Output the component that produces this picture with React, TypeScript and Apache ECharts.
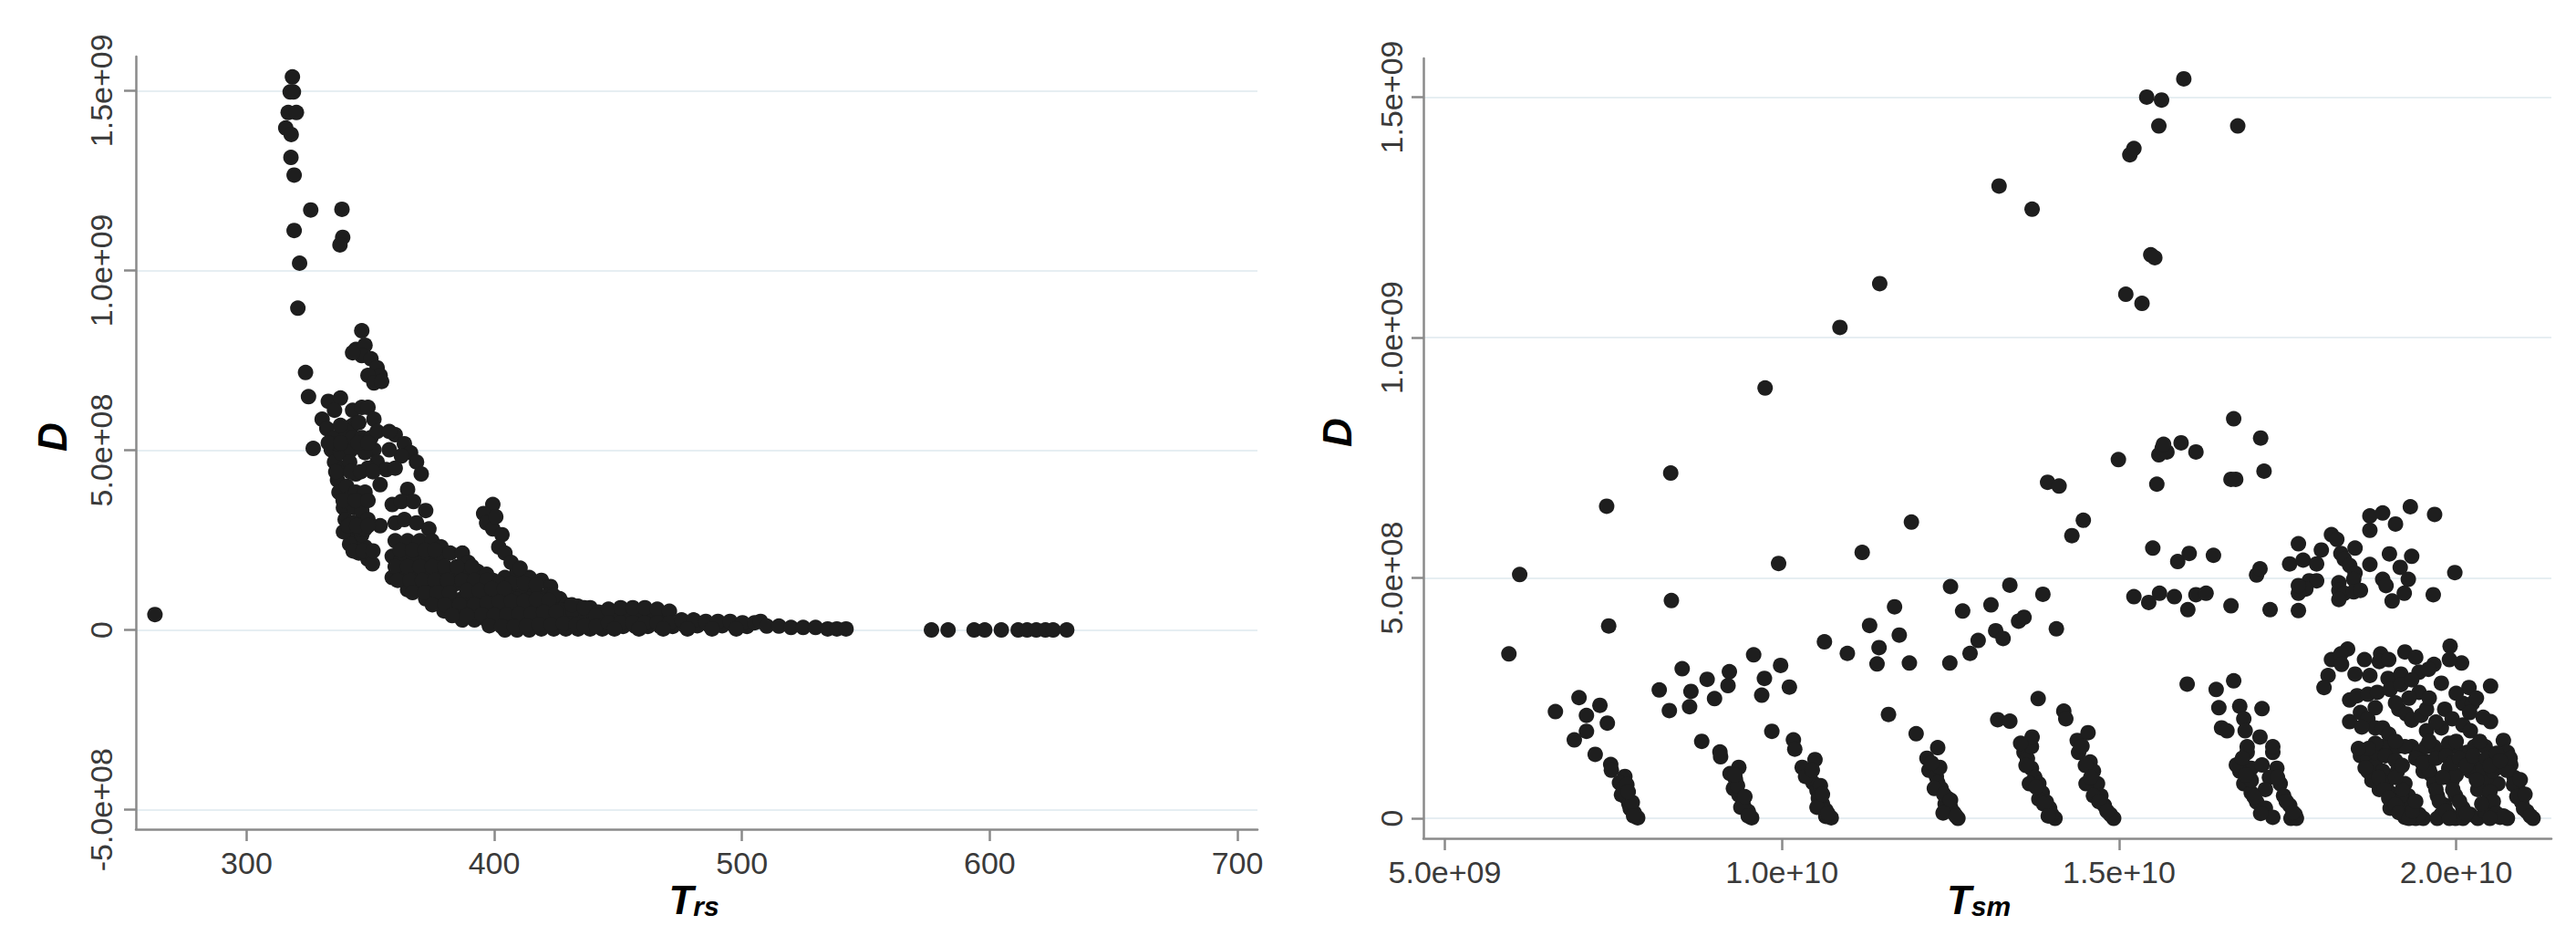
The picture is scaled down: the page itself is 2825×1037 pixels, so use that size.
import React, { useEffect, useRef } from "react";
import * as echarts from "echarts";

// ---------- axis ticks ----------
const trsTicks = [300, 400, 500, 600, 700];
const trsTickLabels = ["300", "400", "500", "600", "700"];
const dLeftTicks = [-5e8, 0, 5e8, 1e9, 1.5e9];
const dLeftTickLabels = ["-5.0e+08", "0", "5.0e+08", "1.0e+09", "1.5e+09"];
const tsmTicks = [5e9, 1e10, 1.5e10, 2e10];
const tsmTickLabels = ["5.0e+09", "1.0e+10", "1.5e+10", "2.0e+10"];
const dRightTicks = [0, 5e8, 1e9, 1.5e9];
const dRightTickLabels = ["0", "5.0e+08", "1.0e+09", "1.5e+09"];

// ---------- left panel: [T_rs, D (x1e8)] ----------
const leftPoints: [number, number][] = [
  [263, 0.43],
  [318.5, 15.38], [317.6, 14.96], [318.9, 14.96], [316.8, 14.39], [320.1, 14.39], [315.8, 13.96],
  [318.0, 13.78], [317.9, 13.14], [319.2, 12.65], [325.9, 11.68], [338.5, 11.7], [319.2, 11.11],
  [338.8, 10.92], [337.7, 10.71], [321.4, 10.2], [320.7, 8.95],
  [346.5, 8.32], [323.8, 7.16], [325.0, 6.49], [326.9, 5.05], [353.9, 4.04], [365.0, 3.91], [353.9, 2.9],
  [344.1, 7.8], [347.8, 7.92], [346.5, 7.63], [350.2, 7.54], [352.7, 7.29], [353.9, 7.08], [349.0, 7.08],
  [351.4, 6.87], [354.5, 6.91], [342.8, 7.71],
  [333.0, 6.36], [337.9, 6.45], [335.5, 6.11], [330.5, 5.86], [332.4, 5.6], [335.5, 5.35], [334.2, 5.01],
  [335.5, 4.67], [337.9, 4.93], [339.1, 4.5], [336.7, 4.17], [337.3, 3.83], [340.4, 4.0], [341.6, 3.66],
  [339.1, 3.4], [339.8, 3.07], [342.8, 2.98], [341.6, 2.65], [344.1, 2.48], [341.6, 2.39], [345.3, 2.14],
  [347.8, 2.31], [346.5, 2.65], [349.0, 1.97], [350.8, 1.84], [344.1, 4.34], [342.2, 5.01], [342.8, 5.69],
  [340.4, 5.52], [337.9, 5.69], [336.7, 5.18], [341.6, 4.67], [343.4, 3.4], [344.1, 3.83], [339.1, 2.73],
  [345.3, 2.81], [346.5, 3.07],
  [342.8, 6.11], [346.5, 6.19], [349.0, 6.19], [351.4, 5.86], [345.3, 5.77], [342.8, 5.35], [346.5, 5.35],
  [350.2, 5.35], [352.7, 5.52], [351.4, 5.01], [347.8, 4.93], [352.7, 4.67], [356.4, 4.46], [349.0, 4.5],
  [347.8, 3.83], [346.5, 3.32], [349.0, 3.07], [347.8, 2.81],
  [333.0, 5.2], [338.0, 5.2], [345.0, 5.2], [349.0, 5.2], [336.0, 4.4], [342.0, 4.4], [346.0, 4.4],
  [351.0, 4.4], [339.0, 3.6], [344.0, 3.6], [349.0, 3.6], [341.0, 2.9], [344.5, 2.9], [349.0, 2.9],
  [343.0, 2.2], [347.0, 2.2], [351.0, 2.2],
  [360.0, 5.43], [363.7, 5.18], [366.2, 4.93], [368.6, 4.67], [370.5, 4.34], [362.5, 4.84], [357.6, 5.01],
  [360.0, 4.5], [357.6, 5.52],
  [358.8, 3.49], [362.5, 3.57], [367.4, 3.57], [372.3, 3.32], [360.0, 2.98], [363.7, 3.07], [368.6, 2.98],
  [373.6, 2.81], [360.0, 2.48], [365.0, 2.48], [369.9, 2.48], [374.8, 2.48], [378.5, 2.31], [358.8, 2.05],
  [362.5, 1.97], [367.4, 1.97], [372.3, 1.97], [377.3, 1.97], [382.2, 2.14], [387.1, 2.14], [389.5, 1.88],
  [358.8, 1.46], [363.7, 1.55], [368.6, 1.55], [373.6, 1.55], [378.5, 1.63], [383.4, 1.63], [388.3, 1.63],
  [393.2, 1.63], [396.9, 1.55], [365.0, 1.12], [369.9, 1.21], [374.8, 1.21], [379.7, 1.21], [384.6, 1.29],
  [389.5, 1.29], [394.5, 1.29], [399.4, 1.38], [404.3, 1.46], [409.2, 1.63], [414.1, 1.46], [419.0, 1.38],
  [422.7, 1.21], [372.3, 0.87], [377.3, 0.87], [382.2, 0.87], [387.1, 0.87], [392.0, 0.96], [396.9, 0.96],
  [401.8, 0.96], [406.8, 1.04], [411.7, 1.04], [416.6, 1.12], [421.5, 0.96], [426.4, 0.87], [379.7, 0.53],
  [384.6, 0.53], [389.5, 0.53], [394.5, 0.53], [399.4, 0.58], [404.3, 0.62], [409.2, 0.62], [414.1, 0.66],
  [419.0, 0.7], [424.0, 0.7], [428.9, 0.7], [433.8, 0.66], [438.7, 0.62], [387.1, 0.28], [392.0, 0.28],
  [396.9, 0.28], [401.8, 0.2], [406.8, 0.2], [411.7, 0.28], [416.6, 0.28], [421.5, 0.36], [426.4, 0.36],
  [431.3, 0.36], [436.3, 0.36], [441.2, 0.28], [404.3, 0.0], [409.2, 0.0], [414.1, 0.0], [419.0, 0.03],
  [424.0, 0.03], [428.9, 0.03], [433.8, 0.03], [438.7, 0.03], [443.6, 0.03],
  [362.0, 2.22], [367.0, 2.22], [372.0, 2.22], [376.0, 2.22],
  [360.0, 1.76], [365.0, 1.76], [370.0, 1.76], [375.0, 1.76], [380.0, 1.76], [385.0, 1.76], [391.0, 1.76],
  [361.0, 1.38], [366.0, 1.38], [371.0, 1.38], [376.0, 1.38], [381.0, 1.38], [387.0, 1.38], [392.0, 1.38],
  [397.0, 1.38], [402.0, 1.3], [407.0, 1.3], [412.0, 1.3], [417.0, 1.25],
  [367.0, 1.04], [372.0, 1.04], [377.0, 1.04], [382.0, 1.04], [389.0, 1.1], [394.0, 1.1], [399.0, 1.15],
  [404.0, 1.15], [409.0, 0.85], [414.0, 0.85], [419.0, 0.85], [424.0, 0.95],
  [375.0, 0.7], [380.0, 0.7], [386.0, 0.7], [392.0, 0.7], [397.0, 0.75], [402.0, 0.78], [407.0, 0.8],
  [412.0, 0.8], [417.0, 0.85], [422.0, 0.82], [427.0, 0.55], [432.0, 0.5], [437.0, 0.45], [442.0, 0.5],
  [383.0, 0.4], [389.0, 0.4], [395.0, 0.42], [400.0, 0.42], [405.0, 0.42], [410.0, 0.45], [415.0, 0.45],
  [420.0, 0.5], [425.0, 0.5], [430.0, 0.18], [435.0, 0.2], [440.0, 0.15], [444.0, 0.2],
  [398.0, 0.12], [403.0, 0.1], [408.0, 0.1], [413.0, 0.12], [418.0, 0.15], [423.0, 0.15], [428.0, 0.18],
  [433.0, 0.15], [438.0, 0.12], [443.0, 0.1], [447.0, 0.1], [452.0, 0.1], [457.0, 0.1], [462.0, 0.1],
  [467.0, 0.1], [472.0, 0.1], [477.0, 0.12], [482.0, 0.12], [487.0, 0.12], [492.0, 0.12], [497.0, 0.12],
  [502.0, 0.1], [448.0, 0.4], [453.0, 0.4], [458.0, 0.4], [463.0, 0.4], [468.0, 0.4],
  [399.4, 3.49], [395.7, 3.24], [396.9, 2.98], [399.4, 2.81], [403.1, 2.65], [401.8, 2.31], [404.3, 2.14],
  [406.8, 1.88], [410.4, 1.72], [400.6, 3.15],
  [431.3, 0.7], [436.3, 0.62], [441.2, 0.41], [436.3, 0.11], [441.2, 0.11], [446.1, 0.58], [451.0, 0.62],
  [455.9, 0.62], [460.8, 0.62], [465.8, 0.58], [470.7, 0.52], [446.1, 0.2], [451.0, 0.2], [455.9, 0.2],
  [460.8, 0.2], [465.8, 0.2], [470.7, 0.2], [448.5, 0.03], [458.4, 0.03], [468.2, 0.03], [475.6, 0.28],
  [480.5, 0.28], [485.4, 0.24], [490.3, 0.24], [495.2, 0.24], [500.2, 0.2], [505.1, 0.2], [507.5, 0.24],
  [478.0, 0.03], [487.9, 0.03], [497.7, 0.03], [510.0, 0.11], [514.9, 0.11], [519.8, 0.07], [524.7, 0.07],
  [529.7, 0.07], [534.6, 0.03], [538.3, 0.03], [542.0, 0.03],
  [576.5, 0.0], [583.2, 0.0], [593.7, 0.0], [598.0, 0.0], [604.7, 0.0], [611.5, 0.0], [615.1, 0.0],
  [618.8, 0.0], [622.5, 0.0], [625.6, 0.0], [631.1, 0.0],
];

// ---------- right panel: [T_sm (x1e9), D (x1e8)] ----------
const rightPoints: [number, number][] = [
  [5.95, 3.42], [6.11, 5.07], [7.4, 6.49], [7.43, 4.0], [8.35, 7.18], [8.36, 4.53], [9.75, 8.95], [9.95, 5.3],
  [10.86, 10.21], [11.45, 11.12], [11.92, 6.16], [11.19, 5.53], [13.22, 13.15], [13.71, 12.67],
  [13.94, 6.99], [14.11, 6.91], [14.3, 5.88], [14.47, 6.2], [15.1, 10.9], [15.34, 10.71], [15.16, 13.8],
  [15.22, 13.93], [15.41, 15.0], [15.63, 14.94], [15.59, 14.4], [15.96, 15.38], [16.76, 14.4],
  [15.47, 11.72], [15.53, 11.66], [14.99, 7.46], [15.59, 7.56], [15.64, 7.7], [15.71, 7.62], [15.66, 7.78],
  [15.92, 7.81], [16.14, 7.62], [16.7, 8.31], [17.1, 7.91], [16.66, 7.05], [16.73, 7.05], [17.15, 7.22],
  [15.56, 6.95],
  [6.64, 2.22], [6.99, 2.51], [7.3, 2.35], [7.1, 2.14], [7.41, 1.98], [7.1, 1.81], [6.92, 1.63], [7.23, 1.33],
  [7.46, 1.12], [7.47, 1.0],
  [7.67, 0.87], [7.59, 0.74], [7.65, 0.62], [7.62, 0.49], [7.7, 0.42], [7.73, 0.3], [7.75, 0.2], [7.81, 0.11],
  [7.86, 0.01], [7.78, 0.33], [7.7, 0.7], [7.8, 0.05], [7.72, 0.55],
  [8.52, 3.11], [8.18, 2.67], [8.33, 2.24], [8.65, 2.64], [8.63, 2.32], [8.89, 2.89], [9.0, 2.49], [9.22, 3.05],
  [9.2, 2.76], [9.58, 3.4], [9.98, 3.18], [9.74, 2.91], [9.7, 2.56], [10.11, 2.73], [8.81, 1.6], [9.08, 1.38],
  [9.09, 1.28],
  [9.36, 1.06], [9.23, 0.93], [9.31, 0.81], [9.28, 0.62], [9.36, 0.49], [9.42, 0.36], [9.44, 0.23], [9.5, 0.14],
  [9.55, 0.01], [9.39, 0.23], [9.34, 0.68], [9.45, 0.45], [9.5, 0.05], [9.3, 0.9],
  [9.85, 1.81], [10.17, 1.63], [10.19, 1.44],
  [10.49, 1.22], [10.3, 1.06], [10.41, 0.87], [10.46, 0.74], [10.52, 0.58], [10.54, 0.42], [10.6, 0.3],
  [10.65, 0.17], [10.73, 0.01], [10.35, 0.87], [10.57, 0.68], [10.65, 0.04], [10.52, 0.23],
  [10.6, 0.5], [10.68, 0.1], [10.45, 1.0],
  [10.63, 3.67], [10.97, 3.43], [11.3, 4.01], [11.44, 3.55], [11.41, 3.21], [11.67, 4.4], [11.74, 3.81],
  [11.89, 3.23], [11.58, 2.16], [11.99, 1.76],
  [12.31, 1.47], [12.15, 1.25], [12.18, 1.0], [12.29, 0.87], [12.34, 1.06], [12.31, 0.74], [12.36, 0.62],
  [12.45, 0.42], [12.42, 0.3], [12.5, 0.23], [12.55, 0.11], [12.61, 0.0], [12.39, 0.11], [12.26, 0.62],
  [12.22, 1.15], [12.4, 0.5], [12.5, 0.38], [12.58, 0.05],
  [12.5, 4.82], [12.68, 4.31], [13.1, 4.44], [12.91, 3.7], [13.17, 3.9], [13.28, 3.74], [12.79, 3.43],
  [12.49, 3.23], [13.2, 2.05],
  [13.38, 4.85], [13.87, 4.66], [13.51, 4.1], [13.59, 4.18], [14.07, 3.94],
  [13.8, 2.49], [13.38, 2.02], [14.18, 2.23], [14.21, 2.07],
  [13.59, 1.37], [13.64, 1.24], [13.7, 1.04], [13.75, 0.85], [13.81, 0.72], [13.86, 0.53], [13.92, 0.34],
  [13.97, 0.21], [14.05, 0.0], [13.67, 0.72], [13.81, 0.4], [14.0, 0.08], [13.7, 1.49], [13.71, 1.69],
  [13.54, 1.56], [13.62, 1.1], [13.77, 0.65], [13.88, 0.3], [13.95, 0.05],
  [14.38, 1.62], [14.4, 1.37], [14.54, 1.78], [14.57, 1.17], [14.62, 0.98], [14.68, 0.72], [14.73, 0.47],
  [14.78, 0.27], [14.87, 0.08], [14.92, 0.0], [14.51, 0.72], [14.62, 0.47],
  [14.45, 1.5], [14.5, 1.1], [14.58, 0.85], [14.7, 0.35], [14.82, 0.15],
  [15.5, 5.62], [15.87, 5.34], [16.04, 5.51], [16.4, 5.47],
  [15.22, 4.61], [15.44, 4.49], [15.6, 4.68], [15.82, 4.61], [16.02, 4.34], [16.14, 4.65], [16.29, 4.68],
  [16.66, 4.42], [17.04, 5.06], [17.09, 5.19], [17.24, 4.34],
  [17.66, 4.32], [17.53, 5.29], [17.66, 5.71], [17.73, 5.37], [17.93, 5.29], [18.15, 5.9], [18.23, 5.8],
  [18.0, 5.58], [18.29, 5.51], [18.34, 5.39], [18.42, 5.26], [18.5, 5.62], [18.72, 5.99], [18.72, 6.29],
  [18.91, 6.35], [19.1, 6.12], [19.32, 6.48], [19.68, 6.32], [19.01, 5.5], [19.34, 5.45], [18.72, 5.28],
  [19.17, 5.22], [19.29, 4.97], [18.5, 5.1], [18.48, 4.97],
  [18.26, 4.9], [18.26, 4.74], [18.34, 4.68], [18.48, 4.71], [18.58, 4.74], [18.26, 4.55],
  [17.82, 4.94], [17.93, 4.94], [17.77, 4.77], [17.66, 4.68], [17.66, 4.84],
  [18.91, 4.97], [18.96, 4.84], [19.05, 4.52], [19.23, 4.68], [19.66, 4.65], [19.98, 5.11],
  [16.01, 2.79], [16.44, 2.68], [16.7, 2.86], [16.48, 2.3], [16.79, 2.33], [17.12, 2.28], [16.52, 1.88],
  [16.6, 1.82], [16.85, 2.07], [16.87, 1.82], [17.09, 1.69],
  [16.9, 1.37], [16.96, 1.04], [16.79, 0.98], [16.85, 0.72], [16.96, 0.53], [17.04, 0.34], [17.17, 0.21],
  [17.28, 0.02], [17.55, 0.0], [17.28, 1.37], [17.34, 1.04], [17.23, 0.85], [17.39, 0.72], [17.44, 0.47],
  [17.53, 0.27], [17.61, 0.08], [17.63, 0.0], [17.17, 0.6], [16.96, 0.79], [16.74, 1.11], [17.12, 1.11],
  [16.9, 1.49], [17.28, 1.49],
  [16.83, 1.25], [16.88, 0.9], [17.0, 0.45], [17.1, 0.1], [17.35, 0.85], [17.48, 0.35], [17.58, 0.12],
  [18.15, 3.3], [18.39, 3.52], [18.29, 3.42], [18.64, 3.3], [18.88, 3.42], [18.86, 3.26], [19.24, 3.46],
  [19.91, 3.58], [20.08, 3.23], [18.1, 2.97], [18.04, 2.72], [18.72, 2.97], [18.99, 2.91], [19.18, 3.0],
  [19.45, 3.04], [19.67, 3.2], [19.59, 3.1], [19.78, 2.81], [20.19, 2.72], [20.51, 2.75],
  [18.42, 2.46], [18.53, 2.55], [18.69, 2.58], [18.83, 2.62], [19.02, 2.68], [19.18, 2.78], [19.34, 2.88],
  [19.45, 2.62], [20.1, 2.39], [20.24, 2.39],
  [18.42, 2.01], [18.58, 2.2], [18.69, 2.07], [18.8, 1.88], [18.91, 1.88], [19.0, 1.75],
  [19.15, 2.27], [19.26, 2.17], [19.34, 2.04], [19.48, 2.14], [19.56, 2.27], [19.83, 2.27], [19.94, 2.07],
  [20.1, 1.94], [20.21, 1.82], [20.51, 2.01], [19.78, 1.88], [19.56, 1.82],
  [18.3, 3.2], [18.5, 3.0], [19.0, 3.3], [19.4, 3.35], [19.9, 3.3], [20.3, 2.5], [20.4, 2.1], [18.8, 2.3],
  [19.1, 2.4], [19.6, 2.5], [20.0, 2.6], [19.3, 2.5], [18.6, 1.9], [19.7, 2.0], [20.2, 2.2],
  [18.58, 1.3], [18.69, 1.24], [18.8, 1.11], [18.75, 0.79], [18.91, 0.98], [18.96, 0.72], [19.02, 0.53],
  [19.07, 0.34], [19.18, 0.21], [19.29, 0.08], [19.4, 0.0], [19.51, 0.0], [19.02, 1.37], [19.13, 0.98],
  [19.24, 0.72], [19.29, 0.47], [19.34, 0.27], [19.18, 0.47], [18.91, 1.49], [19.13, 1.49], [18.86, 0.6],
  [19.02, 0.21], [19.24, 0.02], [19.45, 0.08], [18.8, 1.37], [18.69, 0.98],
  [18.85, 0.85], [18.93, 0.6], [19.0, 0.42], [19.1, 0.28], [19.15, 0.12], [19.3, 0.0], [19.35, 0.15],
  [19.4, 0.35], [19.2, 0.6], [19.1, 0.85],
  [19.34, 1.49], [19.45, 1.37], [19.56, 1.17], [19.62, 0.92], [19.67, 0.72], [19.72, 0.47], [19.83, 0.27],
  [19.89, 0.08], [19.99, 0.0], [20.1, 0.0], [19.78, 1.37], [19.89, 1.04], [19.94, 0.79], [19.99, 0.47],
  [20.1, 0.21], [20.21, 0.08], [20.32, 0.0], [19.67, 1.49], [19.51, 0.98], [19.78, 0.08], [19.72, 0.0],
  [19.6, 1.0], [19.7, 0.6], [19.75, 0.35], [19.85, 0.15], [19.9, 0.0], [19.95, 0.6], [20.05, 0.35],
  [20.15, 0.1], [20.0, 0.9], [19.8, 0.85],
  [20.16, 1.37], [20.27, 1.49], [20.32, 1.17], [20.38, 0.92], [20.43, 0.66], [20.48, 0.4], [20.54, 0.21],
  [20.65, 0.02], [20.76, 0.0], [20.59, 1.04], [20.62, 0.72], [20.21, 0.98], [20.32, 0.6], [20.43, 0.14],
  [20.45, 0.85], [20.5, 0.55], [20.55, 0.35], [20.6, 0.1], [20.7, 0.05], [20.4, 1.05], [20.3, 0.8],
  [20.38, 0.3], [20.5, 0.0],
  [20.7, 1.62], [20.76, 1.37], [20.81, 1.11], [20.86, 0.85], [20.92, 0.6], [20.97, 0.34], [21.05, 0.14],
  [21.14, 0.0], [20.54, 0.98],
  [20.75, 1.0], [20.85, 0.7], [20.9, 0.45], [21.0, 0.2], [21.1, 0.05], [20.95, 0.8], [20.8, 1.25], [21.02, 0.5],
  [19.24, 1.49], [19.56, 1.49], [19.99, 1.49], [20.43, 1.49], [18.8, 1.56], [19.89, 1.56],
  [18.7, 1.45], [18.95, 1.3], [19.1, 1.2], [19.2, 1.1], [19.4, 1.25], [19.5, 1.15], [19.7, 1.25],
  [19.85, 1.3], [19.95, 1.15], [20.05, 1.25], [20.15, 1.1], [20.25, 1.3], [20.45, 1.25], [20.5, 1.1],
  [20.6, 1.35], [20.65, 1.2], [18.65, 1.05], [18.55, 1.45], [20.0, 1.6], [19.6, 1.6], [19.1, 1.6], [20.35, 1.6],
];

const AXIS_COLOR = "#8a8a8a";
const LABEL_COLOR = "#3a3a3a";
const GRID_COLOR = "#e6eef2";
const DOT_COLOR = "#1e1e1e";
const FONT = "'Liberation Sans', Arial, Helvetica, sans-serif";

function labelFor(ticks: number[], labels: string[]) {
  return (v: number) => {
    for (let i = 0; i < ticks.length; i++) {
      if (Math.abs(ticks[i] - v) <= Math.abs(ticks[i]) * 1e-9 + 1e-9) return labels[i];
    }
    return "";
  };
}

function makeXAxis(gridIndex: number, min: number, max: number, ticks: number[], labels: string[]) {
  return {
    type: "value",
    gridIndex,
    position: "bottom",
    min,
    max,
    axisLine: { show: true, onZero: false, lineStyle: { color: AXIS_COLOR, width: 2.5 } },
    axisTick: { show: true, length: 13, customValues: ticks, lineStyle: { color: AXIS_COLOR, width: 2.5 } },
    axisLabel: {
      show: true,
      customValues: ticks,
      formatter: labelFor(ticks, labels),
      fontSize: 34,
      color: LABEL_COLOR,
      fontFamily: FONT,
      margin: 20,
    },
    splitLine: { show: false },
  };
}

function makeYAxis(gridIndex: number, min: number, max: number, ticks: number[], labels: string[], margin: number) {
  return {
    type: "value",
    gridIndex,
    position: "left",
    min,
    max,
    axisLine: { show: true, onZero: false, lineStyle: { color: AXIS_COLOR, width: 2.5 } },
    axisTick: { show: true, length: 13, customValues: ticks, lineStyle: { color: AXIS_COLOR, width: 2.5 } },
    axisLabel: {
      show: true,
      customValues: ticks,
      formatter: labelFor(ticks, labels),
      rotate: 90,
      fontSize: 34,
      color: LABEL_COLOR,
      fontFamily: FONT,
      margin,
    },
    splitLine: { show: true, lineStyle: { color: GRID_COLOR, width: 2 } },
  };
}

const titleFont = { fontWeight: "bold", fontStyle: "italic", fontFamily: FONT, fill: "#000", color: "#000" };

function yTitle(x: number, y: number) {
  return {
    type: "text",
    x,
    y,
    rotation: Math.PI / 2,
    silent: true,
    style: { text: "D", fontSize: 44, ...titleFont, align: "center", verticalAlign: "middle" },
  };
}

function xTitle(sub: string, x: number, y: number) {
  return {
    type: "text",
    x,
    y,
    silent: true,
    style: {
      text: `{t|T}{s|${sub}}`,
      align: "center",
      verticalAlign: "middle",
      rich: {
        t: { fontSize: 44, lineHeight: 44, ...titleFont, verticalAlign: "bottom" },
        s: { fontSize: 30, lineHeight: 18, ...titleFont, verticalAlign: "bottom" },
      },
    },
  };
}

export default function App() {
  const ref = useRef<HTMLDivElement>(null);

  useEffect(() => {
    document.body.style.margin = "0";
    document.body.style.background = "#fff";
    if (!ref.current) return;
    const chart = echarts.init(ref.current, undefined, { renderer: "svg" });

    const leftData = leftPoints.map(([x, y]) => [x, y * 1e8]);
    const rightData = rightPoints.map(([x, y]) => [x * 1e9, y * 1e8]);

    const dotSeries = (i: number, data: number[][]) => ({
      type: "scatter",
      xAxisIndex: i,
      yAxisIndex: i,
      symbol: "circle",
      symbolSize: 17,
      silent: true,
      itemStyle: { color: DOT_COLOR, opacity: 1 },
      data,
    });

    chart.setOption({
      animation: false,
      backgroundColor: "#ffffff",
      grid: [
        { left: 149, top: 62, width: 1230, height: 847, containLabel: false, outerBoundsMode: "none" },
        { left: 1561, top: 64, width: 1237, height: 855, containLabel: false, outerBoundsMode: "none" },
      ],
      xAxis: [
        makeXAxis(0, 255.3, 708.1, trsTicks, trsTickLabels),
        makeXAxis(1, 4.682e9, 2.1412e10, tsmTicks, tsmTickLabels),
      ],
      yAxis: [
        makeYAxis(0, -5.54e8, 1.5946e9, dLeftTicks, dLeftTickLabels, 21),
        makeYAxis(1, -4.17e7, 1.5806e9, dRightTicks, dRightTickLabels, 18),
      ],
      series: [dotSeries(0, leftData), dotSeries(1, rightData)],
      graphic: [
        yTitle(57, 479),
        xTitle("rs", 761, 986),
        yTitle(1466, 474),
        xTitle("sm", 2170, 986),
      ],
    });

    return () => chart.dispose();
  }, []);

  return <div ref={ref} style={{ width: 2825, height: 1037, background: "#fff" }} />;
}
